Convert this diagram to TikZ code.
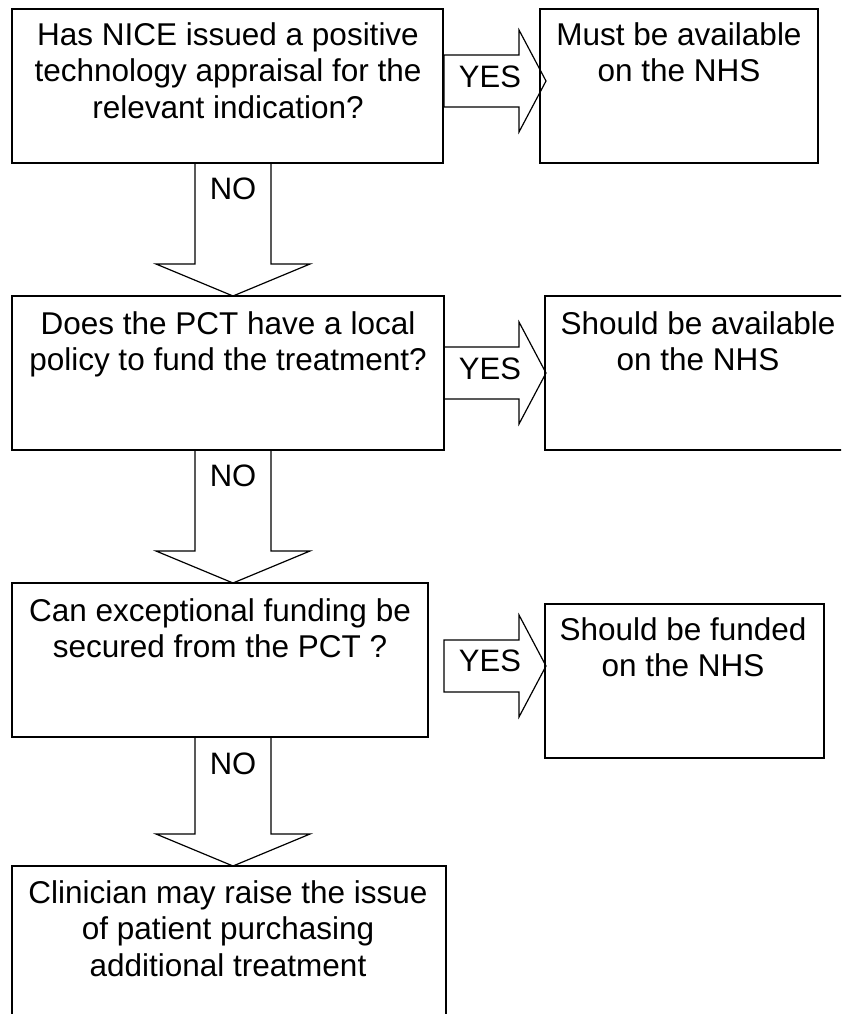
\documentclass[tikz,border=0pt]{standalone}
\usepackage{fontspec}
\setmainfont{Liberation Sans}
\usetikzlibrary{calc}
\tikzset{
 box/.style={draw, line width=1.2pt, rectangle, inner sep=0pt, outer sep=0pt, anchor=north west},
 txt/.style={align=center, inner sep=0pt, anchor=north, font=\fontsize{31.5}{36.5}\selectfont},
 lbl/.style={inner sep=0pt, anchor=base, font=\fontsize{31}{34}\selectfont},
 blk/.style={draw, line width=1.2pt, line join=miter},
}
\begin{document}
\begin{tikzpicture}[x=1pt,y=-1pt]
\clip (0,0) rectangle (841,1014);
\fill[white] (0,0) rectangle (841,1014);
% boxes
\node[box, minimum width=431pt, minimum height=154pt] (q1) at (12,9) {};
\node[box, minimum width=278pt, minimum height=154pt] (r1) at (540,9) {};
\node[box, minimum width=432pt, minimum height=154pt] (q2) at (12,296) {};
\node[box, minimum width=310pt, minimum height=154pt] (r2) at (545,296) {};
\node[box, minimum width=416pt, minimum height=154pt] (q3) at (12,583) {};
\node[box, minimum width=279pt, minimum height=154pt] (r3) at (545,604) {};
\node[box, minimum width=434pt, minimum height=160pt] (q4) at (12,866) {};
% texts
\node[txt] (t1) at (228,22) {Has NICE issued a positive\\technology appraisal for the\\relevant indication?};
\node[txt] (tr1) at (679,22) {Must be available\\on the NHS};
\node[txt] (t2) at (228,311) {Does the PCT have a local\\policy to fund the treatment?};
\node[txt] (tr2) at (698,311) {Should be available\\on the NHS};
\node[txt] (t3) at (220,598) {Can exceptional funding be\\secured from the PCT ?};
\node[txt] (tr3) at (683,617) {Should be funded\\on the NHS};
\node[txt] (t4) at (228,880) {Clinician may raise the issue\\of patient purchasing\\additional treatment};
% YES arrows
\coordinate (y1) at (444,81);
\coordinate (y2) at (444,373);
\coordinate (y3) at (444,666);
\foreach \c in {y1,y2,y3}{
  \draw[blk] (\c) ++(0,-26) -- ++(75,0) -- ++(0,-25) -- ++(27,51) -- ++(-27,51) -- ++(0,-25) -- ++(-75,0) -- cycle;
}
% NO arrows
\coordinate (m) at (233,0);
\draw[blk] ($(q1.south -| m)+(-38,0)$) -- ($(q2.north -| m)+(-38,-32)$) -- ++(-39,0) -- (q2.north -| m) -- ++(77,-32) -- ++(-39,0) -- ($(q1.south -| m)+(38,0)$) -- cycle;
\draw[blk] ($(q2.south -| m)+(-38,0)$) -- ($(q3.north -| m)+(-38,-32)$) -- ++(-39,0) -- (q3.north -| m) -- ++(77,-32) -- ++(-39,0) -- ($(q2.south -| m)+(38,0)$) -- cycle;
\draw[blk] ($(q3.south -| m)+(-38,0)$) -- ($(q4.north -| m)+(-38,-32)$) -- ++(-39,0) -- (q4.north -| m) -- ++(77,-32) -- ++(-39,0) -- ($(q3.south -| m)+(38,0)$) -- cycle;
% labels
\node[lbl] (yes1) at (490,88) {YES};
\node[lbl] (yes2) at (490,379) {YES};
\node[lbl] (yes3) at (490,671) {YES};
\node[lbl] (no1) at (233,199) {NO};
\node[lbl] (no2) at (233,486) {NO};
\node[lbl] (no3) at (233,774) {NO};
\end{tikzpicture}
\end{document}
